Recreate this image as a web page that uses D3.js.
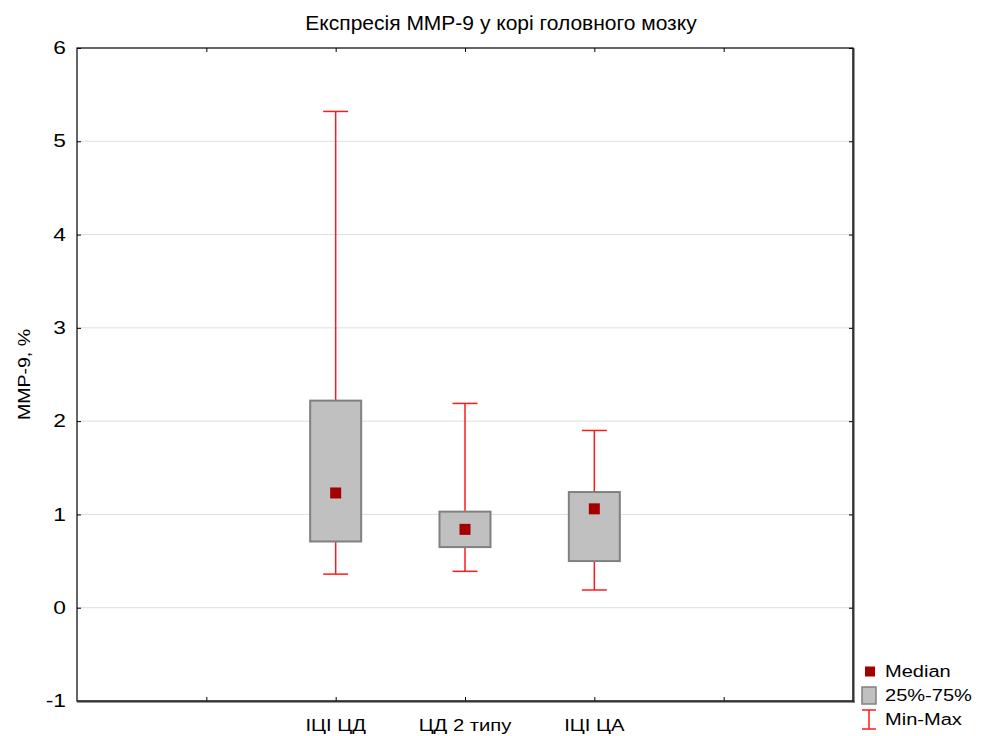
<!DOCTYPE html>
<html>
<head>
<meta charset="utf-8">
<script src="https://cdn.jsdelivr.net/npm/d3@7"></script>
<style>
  html, body { margin: 0; padding: 0; background: #fff; }
  svg text { font-family: "Liberation Sans", Arial, sans-serif; fill: #000; }
</style>
</head>
<body>
<svg id="chart" width="983" height="736"></svg>
<script>
// Groups and their box-plot statistics (MMP-9, %)
const categories = ["ІЦІ ЦД", "ЦД 2 типу", "ІЦІ ЦА"];
const minValues    = [0.36, 0.39, 0.19];
const q1Values     = [0.71, 0.65, 0.50];
const medianValues = [1.23, 0.84, 1.06];
const q3Values     = [2.22, 1.03, 1.24];
const maxValues    = [5.32, 2.19, 1.90];
const yTicks = [-1, 0, 1, 2, 3, 4, 5, 6];
const legendLabels = ["Median", "25%-75%", "Min-Max"];

const svg = d3.select("#chart");
const margin = { left: 77, right: 130, top: 48, bottom: 35 };
const W = 983, H = 736;
const plotW = W - margin.left - margin.right;
const plotH = H - margin.top - margin.bottom;

// Category slots: 6 equal sections, groups sit on boundaries 2..4
const x = d3.scaleLinear().domain([0, 6]).range([margin.left, margin.left + plotW]);
const y = d3.scaleLinear().domain([-1, 6]).range([margin.top + plotH, margin.top]);
const catPos = (i) => x(i + 2);

// Text drawn with a slightly widened face
function wideText(parent, px, py, sx, txt, size, anchor, rot) {
  return parent.append("text")
    .attr("transform", `translate(${px},${py})${rot ? ` rotate(${rot})` : ""} scale(${sx},1)`)
    .attr("text-anchor", anchor || "start")
    .style("font-size", size + "px")
    .text(txt);
}

// Title
svg.append("text")
  .attr("x", 501).attr("y", 30)
  .attr("text-anchor", "middle")
  .style("font-size", "21px")
  .text("Експресія MMP-9 у корі головного мозку");

// Horizontal grid
svg.append("g").selectAll("line")
  .data(yTicks.filter(t => t > -1 && t < 6))
  .join("line")
  .attr("x1", margin.left).attr("x2", margin.left + plotW)
  .attr("y1", d => y(d)).attr("y2", d => y(d))
  .attr("stroke", "#dedede").attr("stroke-width", 1);

// Axes (ticks point inward on every side)
const axisStyle = g => {
  g.select(".domain").remove();
  g.selectAll(".tick line").attr("stroke", "#000");
};
const tickSx = 1.3;
svg.append("g")
  .attr("transform", `translate(${margin.left},0)`)
  .call(d3.axisLeft(y).tickValues(yTicks).tickSizeInner(-4).tickSizeOuter(0)
    .tickFormat(d => d < 0 ? "-" + Math.abs(d) : String(d)))
  .call(axisStyle)
  .call(g => g.selectAll("text")
    .style("font-size", "17.5px")
    .attr("x", -11 / tickSx)
    .attr("transform", `scale(${tickSx},1)`));
svg.append("g")
  .attr("transform", `translate(${margin.left + plotW},0)`)
  .call(d3.axisRight(y).tickValues(yTicks).tickSizeInner(-4).tickSizeOuter(0).tickFormat(""))
  .call(axisStyle);
svg.append("g")
  .attr("transform", `translate(0,${margin.top + plotH})`)
  .call(d3.axisBottom(x).tickValues([1, 2, 3, 4, 5]).tickSizeInner(-4).tickSizeOuter(0).tickFormat(""))
  .call(axisStyle);
svg.append("g")
  .attr("transform", `translate(0,${margin.top})`)
  .call(d3.axisTop(x).tickValues([1, 2, 3, 4, 5]).tickSizeInner(-4).tickSizeOuter(0).tickFormat(""))
  .call(axisStyle);

// Category labels
const catG = svg.append("g");
categories.forEach((c, i) => wideText(catG, catPos(i), margin.top + plotH + 30, 1.19, c, 17, "middle"));

// Y axis title
wideText(svg, 30, y(2.5), 1.15, "MMP-9, %", 17, "middle", -90);

// Plot frame
svg.append("rect")
  .attr("x", margin.left).attr("y", margin.top)
  .attr("width", plotW).attr("height", plotH)
  .attr("fill", "none").attr("stroke", "#000").attr("stroke-width", 1.2);
svg.append("line")
  .attr("x1", margin.left + plotW + 0.5).attr("x2", margin.left + plotW + 0.5)
  .attr("y1", margin.top).attr("y2", margin.top + plotH + 1.5)
  .attr("stroke", "#333").attr("stroke-width", 2);
svg.append("line")
  .attr("x1", margin.left).attr("x2", margin.left + plotW + 1.5)
  .attr("y1", margin.top + plotH + 0.5).attr("y2", margin.top + plotH + 0.5)
  .attr("stroke", "#333").attr("stroke-width", 2);

// Box plots
const boxW = 51, capW = 25, medSize = 11;
const red = "#ff1a1a";
const groups = svg.append("g").selectAll("g")
  .data(categories.map((c, i) => ({ i, min: minValues[i], q1: q1Values[i], med: medianValues[i], q3: q3Values[i], max: maxValues[i] })))
  .join("g");

// whiskers
groups.append("line")
  .attr("x1", d => catPos(d.i)).attr("x2", d => catPos(d.i))
  .attr("y1", d => y(d.max)).attr("y2", d => y(d.q3))
  .attr("stroke", red).attr("stroke-width", 1.5);
groups.append("line")
  .attr("x1", d => catPos(d.i)).attr("x2", d => catPos(d.i))
  .attr("y1", d => y(d.q1)).attr("y2", d => y(d.min))
  .attr("stroke", red).attr("stroke-width", 1.5);
groups.append("line")
  .attr("x1", d => catPos(d.i) - capW / 2).attr("x2", d => catPos(d.i) + capW / 2)
  .attr("y1", d => y(d.max)).attr("y2", d => y(d.max))
  .attr("stroke", red).attr("stroke-width", 1.5);
groups.append("line")
  .attr("x1", d => catPos(d.i) - capW / 2).attr("x2", d => catPos(d.i) + capW / 2)
  .attr("y1", d => y(d.min)).attr("y2", d => y(d.min))
  .attr("stroke", red).attr("stroke-width", 1.5);
// boxes
groups.append("rect")
  .attr("x", d => catPos(d.i) - boxW / 2)
  .attr("y", d => y(d.q3))
  .attr("width", boxW)
  .attr("height", d => y(d.q1) - y(d.q3))
  .attr("fill", "#c0c0c0").attr("stroke", "#808080").attr("stroke-width", 2);
// medians
groups.append("rect")
  .attr("x", d => catPos(d.i) - medSize / 2)
  .attr("y", d => y(d.med) - medSize / 2)
  .attr("width", medSize).attr("height", medSize)
  .attr("fill", "#a50000");

// Legend
const lg = svg.append("g");
lg.append("rect").attr("x", 865).attr("y", 666.5).attr("width", 10).attr("height", 10).attr("fill", "#a50000");
lg.append("rect").attr("x", 862).attr("y", 687).attr("width", 14).attr("height", 17)
  .attr("fill", "#c0c0c0").attr("stroke", "#808080").attr("stroke-width", 1.5);
lg.append("line").attr("x1", 862).attr("x2", 876).attr("y1", 710).attr("y2", 710).attr("stroke", red).attr("stroke-width", 1.5);
lg.append("line").attr("x1", 862).attr("x2", 876).attr("y1", 729).attr("y2", 729).attr("stroke", red).attr("stroke-width", 1.5);
lg.append("line").attr("x1", 869).attr("x2", 869).attr("y1", 710).attr("y2", 729).attr("stroke", red).attr("stroke-width", 1.5);
legendLabels.forEach((t, i) => wideText(lg, 885, 677 + i * 24, 1.18, t, 17, "start"));
</script>
</body>
</html>
